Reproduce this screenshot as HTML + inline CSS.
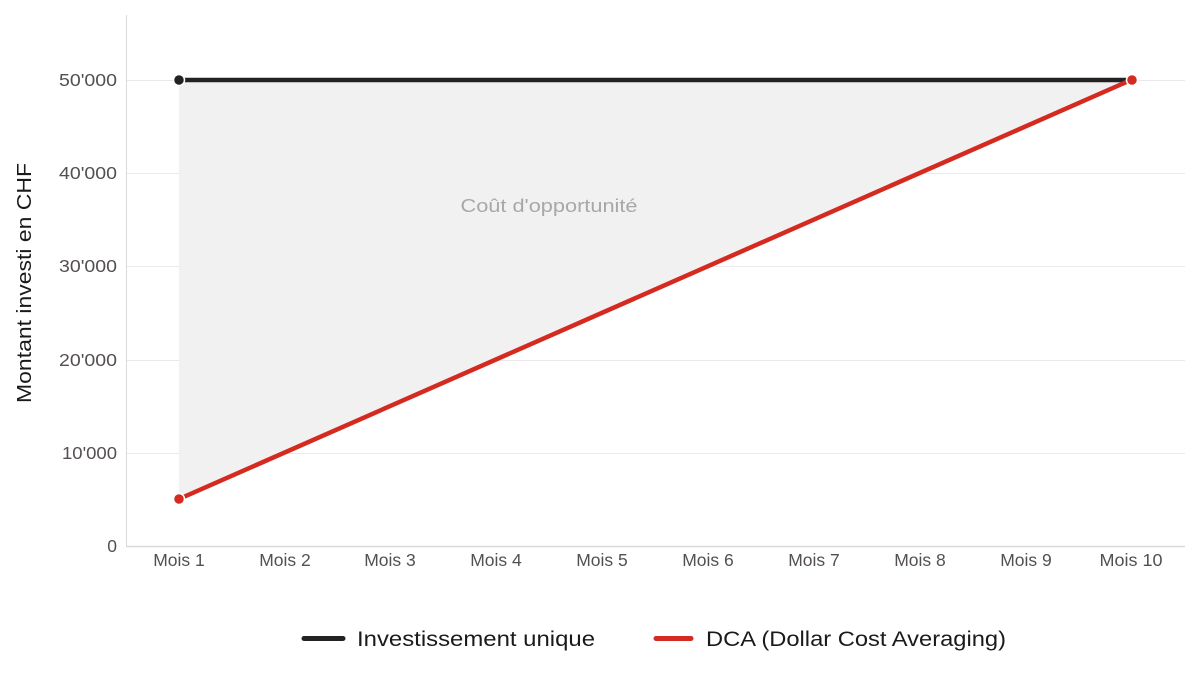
<!DOCTYPE html>
<html><head><meta charset="utf-8"><style>
html,body{margin:0;padding:0;background:#fff;}
svg{display:block;font-family:"Liberation Sans",sans-serif;}
</style></head><body>
<svg width="1200" height="675" viewBox="0 0 1200 675" xmlns="http://www.w3.org/2000/svg">
<rect width="1200" height="675" fill="#fff"/>
<!-- gridlines -->
<g stroke="#e9e9e9" stroke-width="1">
<line x1="127" y1="80.5" x2="1185" y2="80.5"/>
<line x1="127" y1="173.5" x2="1185" y2="173.5"/>
<line x1="127" y1="266.5" x2="1185" y2="266.5"/>
<line x1="127" y1="360.5" x2="1185" y2="360.5"/>
<line x1="127" y1="453.5" x2="1185" y2="453.5"/>
</g>
<!-- fill -->
<polygon points="179,80 1131,80 179,499" fill="#f1f1f1"/>
<!-- axes -->
<line x1="126.5" y1="15" x2="126.5" y2="546" stroke="#d9d9d9" stroke-width="1"/>
<line x1="126" y1="546.5" x2="1185" y2="546.5" stroke="#d9d9d9" stroke-width="1.5"/>
<!-- y tick labels -->
<g fill="#555050" font-size="17.5" text-anchor="end">
<text x="117" y="86" textLength="58" lengthAdjust="spacingAndGlyphs">50'000</text>
<text x="117" y="179" textLength="58" lengthAdjust="spacingAndGlyphs">40'000</text>
<text x="117" y="272" textLength="58" lengthAdjust="spacingAndGlyphs">30'000</text>
<text x="117" y="366" textLength="58" lengthAdjust="spacingAndGlyphs">20'000</text>
<text x="117" y="459" textLength="55" lengthAdjust="spacingAndGlyphs">10'000</text>
<text x="117" y="552">0</text>
</g>
<!-- x labels -->
<g fill="#555050" font-size="17.5" text-anchor="middle">
<text x="179" y="566">Mois 1</text>
<text x="285" y="566">Mois 2</text>
<text x="390" y="566">Mois 3</text>
<text x="496" y="566">Mois 4</text>
<text x="602" y="566">Mois 5</text>
<text x="708" y="566">Mois 6</text>
<text x="814" y="566">Mois 7</text>
<text x="920" y="566">Mois 8</text>
<text x="1026" y="566">Mois 9</text>
<text x="1131" y="566" textLength="63" lengthAdjust="spacingAndGlyphs">Mois 10</text>
</g>
<!-- y title -->
<text transform="translate(31,283) rotate(-90)" text-anchor="middle" font-size="20.5" fill="#1a1a1a" textLength="240" lengthAdjust="spacingAndGlyphs">Montant investi en CHF</text>
<!-- annotation -->
<text x="549" y="212" text-anchor="middle" font-size="18" fill="#a8a8a8" textLength="177" lengthAdjust="spacingAndGlyphs">Coût d'opportunité</text>
<!-- series -->
<line x1="179" y1="80" x2="1131" y2="80" stroke="#222" stroke-width="4.5"/>
<line x1="179" y1="499" x2="1131" y2="80" stroke="#d42a20" stroke-width="4.5"/>
<circle cx="179" cy="80" r="5.5" fill="#222" stroke="#fff" stroke-width="1.5"/>
<circle cx="179" cy="499" r="5.5" fill="#d42a20" stroke="#fff" stroke-width="1.5"/>
<circle cx="1132" cy="80" r="5.5" fill="#d42a20" stroke="#fff" stroke-width="1.5"/>
<!-- legend -->
<line x1="304" y1="638.5" x2="343" y2="638.5" stroke="#222" stroke-width="5" stroke-linecap="round"/>
<text x="357" y="646" font-size="21.5" fill="#1a1a1a" textLength="238" lengthAdjust="spacingAndGlyphs">Investissement unique</text>
<line x1="656" y1="638.5" x2="691" y2="638.5" stroke="#d42a20" stroke-width="5" stroke-linecap="round"/>
<text x="706" y="646" font-size="21.5" fill="#1a1a1a" textLength="300" lengthAdjust="spacingAndGlyphs">DCA (Dollar Cost Averaging)</text>
</svg>
</body></html>
